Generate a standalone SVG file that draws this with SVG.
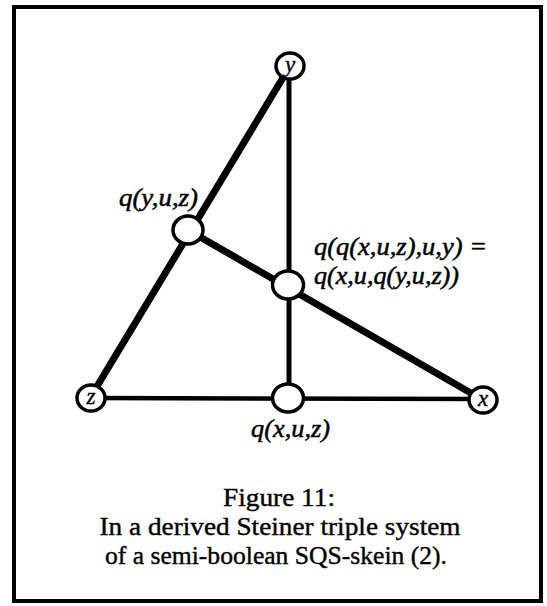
<svg xmlns="http://www.w3.org/2000/svg" width="547" height="606" viewBox="0 0 547 606">
<style>
.frame{fill:none;stroke:#000;stroke-width:4}
.thick{stroke:#000;stroke-width:7;stroke-linecap:round}
.med{stroke:#000;stroke-width:5}
.thin{stroke:#000;stroke-width:4.5}
.node{fill:#fff;stroke:#000;stroke-width:3.5}
.lbl{font-family:"Liberation Serif","Times New Roman",serif;font-style:italic;font-size:25px;fill:#000;stroke:#000;stroke-width:0.5}
.nl{font-family:"Liberation Serif","Times New Roman",serif;font-style:italic;font-size:23px;fill:#000;stroke:#000;stroke-width:0.4;text-anchor:middle}
.cap{font-family:"Liberation Serif","Times New Roman",serif;font-size:26px;fill:#000;stroke:#000;stroke-width:0.4;text-anchor:middle}
</style>
<rect class="frame" x="14" y="7" width="527" height="594"/>
<g id="connectors">
<line class="thick" x1="290" y1="66" x2="90" y2="398"/>
<line class="thick" x1="188" y1="230" x2="483" y2="400"/>
<line class="med" x1="289" y1="66" x2="289" y2="398"/>
<line class="thin" x1="90" y1="398" x2="483" y2="399"/>
</g>
<g id="n-y"><ellipse class="node" cx="290" cy="66" rx="14" ry="13"/><text class="nl" x="290" y="72">y</text></g>
<g id="n-z"><ellipse class="node" cx="91" cy="398" rx="14" ry="13"/><text class="nl" x="91" y="404">z</text></g>
<g id="n-x"><ellipse class="node" cx="483" cy="400" rx="14" ry="13"/><text class="nl" x="483" y="406">x</text></g>
<g id="n-qyuz"><ellipse class="node" cx="188" cy="230" rx="15" ry="14"/><text class="lbl" x="119" y="206" textLength="79" lengthAdjust="spacingAndGlyphs">q(y,u,z)</text></g>
<g id="n-mid"><ellipse class="node" cx="288" cy="285" rx="15.5" ry="14"/><text class="lbl" x="314" y="255" textLength="173" lengthAdjust="spacingAndGlyphs">q(q(x,u,z),u,y) =</text><text class="lbl" x="314" y="284" textLength="145" lengthAdjust="spacingAndGlyphs">q(x,u,q(y,u,z))</text></g>
<g id="n-qxuz"><ellipse class="node" cx="288" cy="398" rx="15.5" ry="14"/><text class="lbl" x="251" y="437" textLength="79" lengthAdjust="spacingAndGlyphs">q(x,u,z)</text></g>
<g id="caption">
<text class="cap" x="279" y="506" textLength="112" lengthAdjust="spacingAndGlyphs">Figure 11:</text>
<text class="cap" x="280" y="535" textLength="361" lengthAdjust="spacingAndGlyphs">In a derived Steiner triple system</text>
<text class="cap" x="276" y="564" textLength="342" lengthAdjust="spacingAndGlyphs">of a semi-boolean SQS-skein (2).</text>
</g>
</svg>
